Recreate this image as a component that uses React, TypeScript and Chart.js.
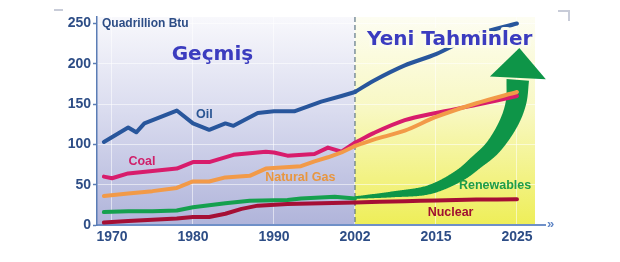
import React, { useEffect, useRef } from "react";
import { Chart, registerables } from "chart.js";

Chart.register(...registerables);

// ---- axis data ----
const tickYears = [1970, 1980, 1990, 2002, 2015, 2025];
const tickLabels = ["1970", "1980", "1990", "2002", "2015", "2025"];
const yTicks = [0, 50, 100, 150, 200, 250];
const forecastStartYear = 2002;

// ---- series data (Quadrillion Btu) ----
const oilYears = [1969, 1972, 1973, 1974, 1978, 1980, 1982, 1984, 1985, 1988, 1990, 1993, 1997, 2000, 2002];
const oilValues = [103, 121, 115, 126, 142, 126, 118, 126, 123, 139, 141, 141, 153, 160, 165];
const oilForecastYears = [2002, 2005, 2010, 2015, 2020, 2025];
const oilForecastValues = [165, 179, 198, 212, 236, 250];

const coalYears = [1969, 1970, 1972, 1975, 1978, 1980, 1982, 1985, 1987, 1989, 1990, 1992, 1996, 1998, 2000, 2002];
const coalValues = [60, 58, 64, 67, 70, 78, 78, 87, 89, 91, 90, 86, 88, 96, 91, 102];
const coalForecastYears = [2002, 2005, 2010, 2015, 2020, 2025];
const coalForecastValues = [102, 114, 130, 139, 149, 160];

const gasYears = [1969, 1972, 1975, 1978, 1980, 1982, 1984, 1987, 1989, 1994, 1996, 1998, 2000, 2002];
const gasValues = [36, 39, 42, 46, 54, 54, 59, 61, 70, 73, 79, 84, 90, 98];
const gasForecastYears = [2002, 2005, 2010, 2015, 2020, 2025];
const gasForecastValues = [98, 106, 117, 134, 151, 165];

const renewYears = [1969, 1972, 1975, 1978, 1980, 1984, 1987, 1992, 1994, 1999, 2002];
const renewValues = [16, 17, 17, 18, 22, 27, 30, 31, 33, 35, 33];
// forecast drawn as the green arrow
const renewForecastYears = [2002, 2008, 2014, 2018, 2020, 2022, 2024, 2024.9, 2025.1];
const renewForecastValues = [34, 38, 44, 62, 78, 96, 127, 153, 180];

const nuclearYears = [1969, 1972, 1978, 1980, 1982, 1984, 1986, 1988, 1992, 1997, 2002];
const nuclearValues = [3, 5, 8, 10, 10, 14, 20, 24, 26, 27, 28];
const nuclearForecastYears = [2002, 2010, 2015, 2020, 2025];
const nuclearForecastValues = [28, 29.5, 30.5, 31.5, 32];

// ---- text annotations (anchored in data space) ----
const seriesLabels = [
  { text: "Oil", year: 1981.4, value: 137, color: "#2a5593" },
  { text: "Coal", year: 1973.7, value: 78.6, color: "#d0206a" },
  { text: "Natural Gas", year: 1993.9, value: 59, color: "#e8963f" },
  { text: "Renewables", year: 2022.3, value: 48.4, color: "#1e9c48" },
  { text: "Nuclear", year: 2016.8, value: 15.5, color: "#a01030" },
];
const periodLabels = [
  { text: "Geçmiş", year: 1982.4, value: 211 },
  { text: "Yeni Tahminler", year: 2016.7, value: 230 },
];
const unitLabel = "Quadrillion Btu";

// year -> evenly spaced label position
function yearToPos(year: number): number {
  let i = 0;
  while (i < tickYears.length - 2 && year > tickYears[i + 1]) i++;
  return i + (year - tickYears[i]) / (tickYears[i + 1] - tickYears[i]);
}
const series = (years: number[], values: number[]) =>
  years.map((y, i) => ({ x: yearToPos(y), y: values[i] }));

const COLORS = {
  oil: "#28569c",
  coal: "#d81c6c",
  gas: "#f29a48",
  renew: "#15a04e",
  nuclear: "#a50f35",
  arrow: "#0e9548",
  tick: "#2d4d86",
  title: "#3b3cbf",
};
const LABEL_FONT = "bold 12.5px 'Liberation Sans', Arial, sans-serif";
const TITLE_FONT = "bold 20px 'DejaVu Sans', Verdana, sans-serif";

const bgPlugin = {
  id: "bg",
  beforeDraw(chart: any) {
    const { ctx, chartArea: a, scales } = chart;
    const xs = scales.x.getPixelForValue(yearToPos(forecastStartYear));
    ctx.save();
    const g1 = ctx.createLinearGradient(0, a.top, 0, a.bottom);
    g1.addColorStop(0, "#f8f8fc");
    g1.addColorStop(0.45, "#dadcef");
    g1.addColorStop(1, "#b0b4da");
    ctx.fillStyle = g1;
    ctx.fillRect(a.left, a.top, xs - a.left, a.bottom - a.top);
    const g2 = ctx.createLinearGradient(0, a.top, 0, a.bottom);
    g2.addColorStop(0, "#fdfdf2");
    g2.addColorStop(0.45, "#f8f8c2");
    g2.addColorStop(1, "#eeee58");
    ctx.fillStyle = g2;
    ctx.fillRect(xs, a.top, a.right - 10 - xs, a.bottom - a.top);
    // corner marks
    ctx.strokeStyle = "#c8ccd8";
    ctx.lineWidth = 2;
    ctx.beginPath();
    ctx.moveTo(558, 11);
    ctx.lineTo(569, 11);
    ctx.lineTo(569, 21);
    ctx.moveTo(54, 10);
    ctx.lineTo(63, 10);
    ctx.stroke();
    ctx.restore();
  },
};

type Pt = { x: number; y: number };
// centripetal Catmull-Rom sampling
function centripetal(pts: Pt[], per: number): Pt[] {
  const n = pts.length;
  const P = (i: number): Pt => {
    if (i < 0) return { x: 2 * pts[0].x - pts[1].x, y: 2 * pts[0].y - pts[1].y };
    if (i >= n) return { x: 2 * pts[n - 1].x - pts[n - 2].x, y: 2 * pts[n - 1].y - pts[n - 2].y };
    return pts[i];
  };
  const out: Pt[] = [];
  for (let i = 0; i < n - 1; i++) {
    const p0 = P(i - 1), p1 = P(i), p2 = P(i + 1), p3 = P(i + 2);
    const k = (a: Pt, b: Pt) => Math.max(1e-4, Math.sqrt(Math.hypot(b.x - a.x, b.y - a.y)));
    const t0 = 0, t1 = t0 + k(p0, p1), t2 = t1 + k(p1, p2), t3 = t2 + k(p2, p3);
    const lerp = (a: Pt, b: Pt, ta: number, tb: number, t: number): Pt => ({
      x: ((tb - t) / (tb - ta)) * a.x + ((t - ta) / (tb - ta)) * b.x,
      y: ((tb - t) / (tb - ta)) * a.y + ((t - ta) / (tb - ta)) * b.y,
    });
    for (let s = 0; s < per; s++) {
      const t = t1 + ((t2 - t1) * s) / per;
      const A1 = lerp(p0, p1, t0, t1, t), A2 = lerp(p1, p2, t1, t2, t), A3 = lerp(p2, p3, t2, t3, t);
      const B1 = lerp(A1, A2, t0, t2, t), B2 = lerp(A2, A3, t1, t3, t);
      out.push(lerp(B1, B2, t1, t2, t));
    }
  }
  out.push(pts[n - 1]);
  return out;
}

const arrowPlugin = {
  id: "arrow",
  beforeDatasetsDraw(chart: any) {
    const { ctx, chartArea: a, scales } = chart;
    const xs = scales.x.getPixelForValue(yearToPos(forecastStartYear));
    ctx.save();
    // dashed divider
    ctx.strokeStyle = "#3c5a6e";
    ctx.lineWidth = 1;
    ctx.setLineDash([5, 3]);
    ctx.beginPath();
    ctx.moveTo(xs, a.top);
    ctx.lineTo(xs, a.bottom);
    ctx.stroke();
    ctx.setLineDash([]);

    // renewables forecast arrow
    const pts = renewForecastYears.map((y, i) => ({
      x: scales.x.getPixelForValue(yearToPos(y)),
      y: scales.y.getPixelForValue(renewForecastValues[i]),
    }));
    const dense = centripetal(pts, 40);
    const cum = [0];
    for (let i = 1; i < dense.length; i++) {
      cum.push(cum[i - 1] + Math.hypot(dense[i].x - dense[i - 1].x, dense[i].y - dense[i - 1].y));
    }
    const total = cum[cum.length - 1];
    const left: Pt[] = [];
    const right: Pt[] = [];
    for (let i = 0; i < dense.length; i++) {
      const pa = dense[Math.max(0, i - 2)], pb = dense[Math.min(dense.length - 1, i + 2)];
      let dx = pb.x - pa.x, dy = pb.y - pa.y;
      const len = Math.hypot(dx, dy) || 1;
      dx /= len; dy /= len;
      const t = cum[i] / total;
      const hw = (2.5 + 20 * t) / 2;
      left.push({ x: dense[i].x - dy * hw, y: dense[i].y + dx * hw });
      right.push({ x: dense[i].x + dy * hw, y: dense[i].y - dx * hw });
    }
    ctx.fillStyle = COLORS.arrow;
    ctx.beginPath();
    ctx.moveTo(left[0].x, left[0].y);
    for (const p of left) ctx.lineTo(p.x, p.y);
    for (let i = right.length - 1; i >= 0; i--) ctx.lineTo(right[i].x, right[i].y);
    ctx.closePath();
    ctx.fill();
    // head
    const E = dense[dense.length - 1];
    const Q = dense[dense.length - 12];
    let dx = E.x - Q.x, dy = E.y - Q.y;
    const l = Math.hypot(dx, dy) || 1;
    dx /= l; dy /= l;
    const bx = E.x + dx * 2, by = E.y + dy * 2;
    ctx.beginPath();
    ctx.moveTo(bx - dy * 28, by + dx * 28);
    ctx.lineTo(bx + dx * 30, by + dy * 30);
    ctx.lineTo(bx + dy * 28, by - dx * 28);
    ctx.closePath();
    ctx.fill();
    ctx.restore();
  },
};

const textPlugin = {
  id: "texts",
  afterDatasetsDraw(chart: any) {
    const { ctx, chartArea: a, scales } = chart;
    ctx.save();
    ctx.textAlign = "center";
    ctx.textBaseline = "middle";
    ctx.font = LABEL_FONT;
    for (const lb of seriesLabels) {
      ctx.fillStyle = lb.color;
      ctx.fillText(lb.text, scales.x.getPixelForValue(yearToPos(lb.year)), scales.y.getPixelForValue(lb.value));
    }
    ctx.font = TITLE_FONT;
    ctx.lineJoin = "round";
    periodLabels.forEach((lb, i) => {
      const x = scales.x.getPixelForValue(yearToPos(lb.year));
      const y = scales.y.getPixelForValue(lb.value);
      if (i === 1) {
        ctx.strokeStyle = "#fcfcec";
        ctx.lineWidth = 6;
        ctx.strokeText(lb.text, x, y);
      }
      ctx.fillStyle = COLORS.title;
      ctx.fillText(lb.text, x, y);
    });
    // unit label
    ctx.textAlign = "left";
    ctx.font = "bold 12px 'Liberation Sans', Arial, sans-serif";
    ctx.fillStyle = COLORS.tick;
    ctx.fillText(unitLabel, a.left + 5, scales.y.getPixelForValue(yTicks[yTicks.length - 1]));
    // axis arrow mark
    ctx.font = "bold 13px 'Liberation Sans', Arial, sans-serif";
    ctx.fillStyle = "#5f86c6";
    ctx.fillText("»", a.right + 2, a.bottom - 1);
    ctx.restore();
  },
};

const line = (data: any[], color: string, tension = 0) => ({
  data,
  borderColor: color,
  backgroundColor: color,
  borderWidth: 4,
  tension,
  pointRadius: 0,
  fill: false,
  borderCapStyle: "round",
  borderJoinStyle: "round",
});

export default function App() {
  const ref = useRef<HTMLCanvasElement>(null);
  useEffect(() => {
    document.body.style.margin = "0";
    const tickFont = { family: "'Liberation Sans', Arial, sans-serif", size: 14, weight: "bold" as const };
    const chart = new Chart(ref.current!, {
      type: "line",
      data: {
        datasets: [
          line(series(nuclearYears, nuclearValues), COLORS.nuclear),
          line(series(nuclearForecastYears, nuclearForecastValues), COLORS.nuclear, 0.3),
          line(series(renewYears, renewValues), COLORS.renew),
          line(series(gasYears, gasValues), COLORS.gas),
          line(series(gasForecastYears, gasForecastValues), COLORS.gas, 0.3),
          line(series(coalYears, coalValues), COLORS.coal),
          line(series(coalForecastYears, coalForecastValues), COLORS.coal, 0.3),
          line(series(oilYears, oilValues), COLORS.oil),
          line(series(oilForecastYears, oilForecastValues), COLORS.oil, 0.3),
        ] as any,
      },
      options: {
        animation: false,
        responsive: false,
        maintainAspectRatio: false,
        layout: { padding: { top: 17, right: 75, left: 0, bottom: 0 } },
        plugins: { legend: { display: false }, tooltip: { enabled: false } },
        scales: {
          x: {
            type: "linear",
            min: -0.185,
            max: 5.346,
            afterBuildTicks: (s: any) => {
              s.ticks = tickYears.map((_, i) => ({ value: i }));
            },
            afterFit: (s: any) => {
              s.height = 37;
            },
            grid: { color: "rgba(255,255,255,0.55)", drawTicks: false, lineWidth: 1 },
            border: { display: true, color: "#6f90c8", width: 2 },
            ticks: {
              padding: 4,
              color: COLORS.tick,
              font: tickFont,
              maxRotation: 0,
              autoSkip: false,
              callback: (_v: any, i: number) => tickLabels[i],
            },
          },
          y: {
            type: "linear",
            min: 0,
            max: 258,
            afterBuildTicks: (s: any) => {
              s.ticks = yTicks.map((v) => ({ value: v }));
            },
            afterFit: (s: any) => {
              s.width = 97;
            },
            grid: {
              color: "rgba(255,255,255,0.55)",
              lineWidth: 1,
              drawTicks: true,
              tickLength: 4,
              tickColor: "#5b7db5",
              tickWidth: 1.5,
            },
            border: { display: true, color: "#5b7db5", width: 1.5 },
            ticks: { padding: 2, color: COLORS.tick, font: tickFont },
          },
        },
      } as any,
      plugins: [bgPlugin, arrowPlugin, textPlugin],
    });
    return () => chart.destroy();
  }, []);
  return (
    <div style={{ width: 620, height: 262, background: "#ffffff" }}>
      <canvas ref={ref} width={620} height={262} style={{ display: "block" }} />
    </div>
  );
}
